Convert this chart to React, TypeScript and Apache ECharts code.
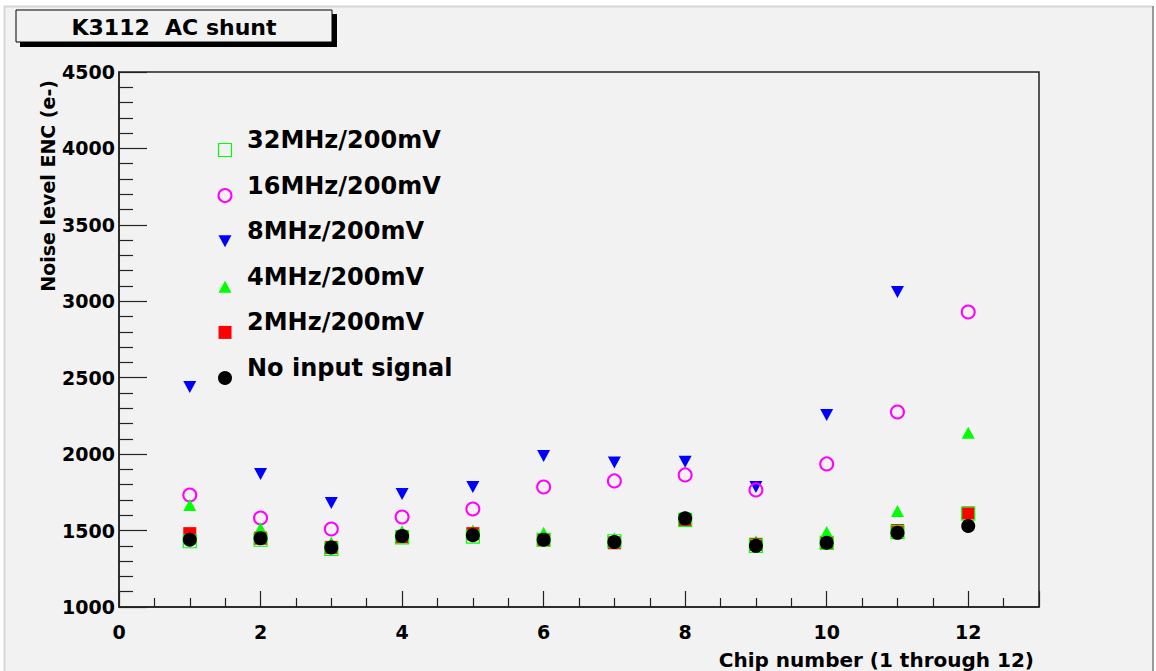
import React, { useEffect, useRef } from "react";
import * as echarts from "echarts";

// Chip numbers on the x axis
const chips = [1, 2, 3, 4, 5, 6, 7, 8, 9, 10, 11, 12];

// Noise level ENC (e-) per chip for each run condition
const mhz32 = [1430, 1440, 1380, 1455, 1460, 1440, 1430, 1570, 1400, 1420, 1490, 1610];
const mhz16 = [1733, 1582, 1510, 1589, 1641, 1785, 1825, 1864, 1766, 1936, 2276, 2930];
const mhz8: (number | null)[] = [2440, 1870, 1680, 1740, 1785, 1988, 1945, 1950, 1785, 2256, 3061, null];
const mhz4 = [1667, 1515, 1420, 1495, 1500, 1485, 1450, 1590, 1430, 1490, 1628, 2140];
const mhz2 = [1480, 1450, 1390, 1460, 1480, 1440, 1420, 1570, 1410, 1420, 1500, 1615];
const noInput = [1440, 1450, 1390, 1465, 1470, 1440, 1425, 1580, 1400, 1420, 1485, 1530];

const legendLabels = [
  "32MHz/200mV",
  "16MHz/200mV",
  "8MHz/200mV",
  "4MHz/200mV",
  "2MHz/200mV",
  "No input signal",
];

const FONT = '"DejaVu Sans", "Liberation Sans", Arial, sans-serif';
const BG = "#f2f2f2";

const pairs = (vals: (number | null)[]) =>
  chips.map((c, i) => [c, vals[i] == null ? "-" : vals[i]]);

export default function App() {
  const ref = useRef<HTMLDivElement>(null);

  useEffect(() => {
    if (!ref.current) return;
    const chart = echarts.init(ref.current, undefined, { renderer: "svg" });

    const legendX = 225;
    const legendY0 = 150;
    const legendStep = 45.6;
    const ly = (i: number) => legendY0 + i * legendStep;

    const legendMarkers: any[] = [
      {
        type: "rect",
        shape: { x: legendX - 6.5, y: ly(0) - 6.5, width: 13, height: 13 },
        style: { fill: "none", stroke: "#00ff00", lineWidth: 1.2 },
      },
      {
        type: "circle",
        shape: { cx: legendX, cy: ly(1), r: 6.5 },
        style: { fill: "none", stroke: "#ff00ff", lineWidth: 2 },
      },
      {
        type: "polygon",
        shape: {
          points: [
            [legendX - 6.5, ly(2) - 6],
            [legendX + 6.5, ly(2) - 6],
            [legendX, ly(2) + 6],
          ],
        },
        style: { fill: "#0000ff" },
      },
      {
        type: "polygon",
        shape: {
          points: [
            [legendX - 6.5, ly(3) + 6],
            [legendX + 6.5, ly(3) + 6],
            [legendX, ly(3) - 6],
          ],
        },
        style: { fill: "#00ff00" },
      },
      {
        type: "rect",
        shape: { x: legendX - 6.5, y: ly(4) - 6.5, width: 13, height: 13 },
        style: { fill: "#ff0000" },
      },
      {
        type: "circle",
        shape: { cx: legendX, cy: ly(5), r: 7 },
        style: { fill: "#000000" },
      },
    ];

    const legendTexts = legendLabels.map((t, i) => ({
      type: "text",
      x: 247,
      y: ly(i) - 10,
      style: {
        text: t,
        font: `bold 24px ${FONT}`,
        fill: "#000",
        textAlign: "left",
        textVerticalAlign: "middle",
        align: "left",
        verticalAlign: "middle",
      },
    }));

    chart.setOption({
      animation: false,
      backgroundColor: "#ffffff",
      grid: {
        left: 119,
        top: 72,
        right: 117,
        bottom: 64,
        show: true,
        borderColor: "#222",
        borderWidth: 1.5,
        backgroundColor: "transparent",
        z: 3,
      },
      xAxis: {
        type: "value",
        min: 0,
        max: 13,
        interval: 2,
        axisLine: { show: true, lineStyle: { color: "#222", width: 1.5 } },
        axisTick: { show: true, inside: true, length: 16, lineStyle: { color: "#222", width: 1.2 } },
        minorTick: { show: true, splitNumber: 4, length: 9, lineStyle: { color: "#222", width: 1.2 } },
        splitLine: { show: false },
        minorSplitLine: { show: false },
        axisLabel: {
          margin: 15,
          color: "#000",
          fontFamily: FONT,
          fontWeight: "bold",
          fontSize: 19,
          showMaxLabel: false,
          formatter: (v: number) => (v % 2 === 0 ? String(v) : ""),
        },
      },
      yAxis: {
        type: "value",
        min: 1000,
        max: 4500,
        interval: 500,
        axisLine: { show: true, lineStyle: { color: "#222", width: 1.5 } },
        axisTick: { show: true, inside: true, length: 28, lineStyle: { color: "#222", width: 1.2 } },
        minorTick: { show: true, splitNumber: 5, length: 14, lineStyle: { color: "#222", width: 1.2 } },
        splitLine: { show: false },
        minorSplitLine: { show: false },
        axisLabel: {
          margin: 4,
          color: "#000",
          fontFamily: FONT,
          fontWeight: "bold",
          fontSize: 19,
          formatter: (v: number) => String(v),
        },
      },
      graphic: [
        // outer pad with a bevelled frame
        {
          type: "rect",
          z: -10,
          shape: { x: 4, y: 6, width: 1149, height: 680 },
          style: { fill: BG },
        },
        {
          type: "line",
          z: -9,
          shape: { x1: 4, y1: 6.5, x2: 1153, y2: 6.5 },
          style: { stroke: "#d6d6d6", lineWidth: 2 },
        },
        {
          type: "line",
          z: -9,
          shape: { x1: 4.5, y1: 6, x2: 4.5, y2: 671 },
          style: { stroke: "#d6d6d6", lineWidth: 2 },
        },
        {
          type: "line",
          z: -9,
          shape: { x1: 1153, y1: 6, x2: 1153, y2: 671 },
          style: { stroke: "#999999", lineWidth: 2 },
        },
        // title box with drop shadow
        {
          type: "rect",
          z: 10,
          shape: { x: 20, y: 14, width: 317, height: 33 },
          style: { fill: "#000" },
        },
        {
          type: "rect",
          z: 11,
          shape: { x: 16, y: 10, width: 316, height: 32 },
          style: { fill: BG, stroke: "#000", lineWidth: 1 },
        },
        {
          type: "text",
          z: 12,
          x: 174,
          y: 27,
          style: {
            text: "K3112  AC shunt",
            font: `bold 22px ${FONT}`,
            fill: "#000",
            textAlign: "center",
            textVerticalAlign: "middle",
            align: "center",
            verticalAlign: "middle",
          },
        },
        // axis titles
        {
          type: "text",
          z: 12,
          x: 48,
          y: 80,
          rotation: Math.PI / 2,
          style: {
            text: "Noise level ENC (e-)",
            font: `bold 19px ${FONT}`,
            fill: "#000",
            textAlign: "right",
            textVerticalAlign: "middle",
            align: "right",
            verticalAlign: "middle",
          },
        },
        {
          type: "text",
          z: 12,
          x: 1034,
          y: 660,
          style: {
            text: "Chip number (1 through 12)",
            font: `bold 20px ${FONT}`,
            fill: "#000",
            textAlign: "right",
            textVerticalAlign: "middle",
            align: "right",
            verticalAlign: "middle",
          },
        },
        ...legendMarkers.map((m) => ({ ...m, z: 12 })),
        ...legendTexts.map((t) => ({ ...t, z: 12 })),
      ],
      series: [
        {
          name: "8MHz/200mV",
          type: "scatter",
          data: pairs(mhz8),
          symbol: "triangle",
          symbolRotate: 180,
          symbolSize: [13, 12],
          itemStyle: { color: "#0000ff", opacity: 1 },
          z: 4,
        },
        {
          name: "16MHz/200mV",
          type: "scatter",
          data: pairs(mhz16),
          symbol: "circle",
          symbolSize: 13,
          itemStyle: { color: "none", borderColor: "#ff00ff", borderWidth: 2, opacity: 1 },
          z: 5,
        },
        {
          name: "4MHz/200mV",
          type: "scatter",
          data: pairs(mhz4),
          symbol: "triangle",
          symbolSize: [13, 12],
          itemStyle: { color: "#00ff00", opacity: 1 },
          z: 6,
        },
        {
          name: "2MHz/200mV",
          type: "scatter",
          data: pairs(mhz2),
          symbol: "rect",
          symbolSize: 13,
          itemStyle: { color: "#ff0000", opacity: 1 },
          z: 7,
        },
        {
          name: "32MHz/200mV",
          type: "scatter",
          data: pairs(mhz32),
          symbol: "rect",
          symbolSize: 13,
          itemStyle: { color: "none", borderColor: "#00ff00", borderWidth: 1.2, opacity: 1 },
          z: 8,
        },
        {
          name: "No input signal",
          type: "scatter",
          data: pairs(noInput),
          symbol: "circle",
          symbolSize: 14,
          itemStyle: { color: "#000000", opacity: 1 },
          z: 9,
        },
      ],
    });

    return () => chart.dispose();
  }, []);

  return (
    <div
      ref={ref}
      style={{ position: "fixed", left: 0, top: 0, width: 1156, height: 671 }}
    />
  );
}
